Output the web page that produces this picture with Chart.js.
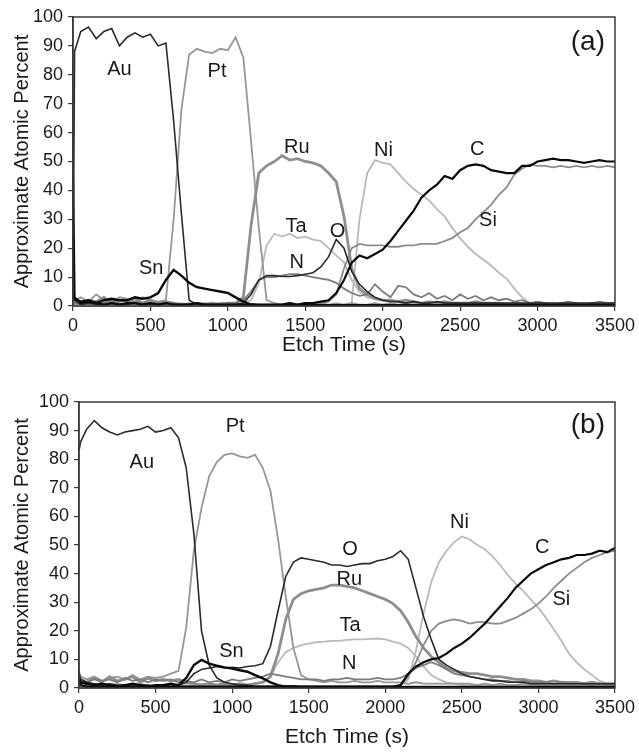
<!DOCTYPE html>
<html>
<head>
<meta charset="utf-8">
<script src="https://cdn.jsdelivr.net/npm/chart.js@4.4.1/dist/chart.umd.min.js"></script>
<style>
  html, body { margin: 0; padding: 0; background: #ffffff; }
  body { width: 639px; height: 753px; position: relative; overflow: hidden; }
  canvas { position: absolute; left: 0; }
  #chartA { top: 0px; }
  #chartB { top: 378px; }
</style>
</head>
<body>
<canvas id="chartA" width="639" height="375"></canvas>
<canvas id="chartB" width="639" height="375"></canvas>
<script>
// ---------- shared axis data ----------
const etchTime = [0, 10,
  50, 100, 150, 200, 250, 300, 350, 400, 450, 500,
  550, 600, 650, 700, 750, 800, 850, 900, 950, 1000,
  1050, 1100, 1150, 1200, 1250, 1300, 1350, 1400, 1450, 1500,
  1550, 1600, 1650, 1700, 1750, 1800, 1850, 1900, 1950, 2000,
  2050, 2100, 2150, 2200, 2250, 2300, 2350, 2400, 2450, 2500,
  2550, 2600, 2650, 2700, 2750, 2800, 2850, 2900, 2950, 3000,
  3050, 3100, 3150, 3200, 3250, 3300, 3350, 3400, 3450, 3500];
const xTicks = [0, 500, 1000, 1500, 2000, 2500, 3000, 3500];
const yTicks = [0, 10, 20, 30, 40, 50, 60, 70, 80, 90, 100];

// ---------- panel (a) ----------
const auA = [2, 88,
  95, 96.5, 92.5, 95, 96, 90, 93, 94.5, 93, 94,
  90, 91, 64, 32, 2, 0.5, 0.3, 0.3, 0.2, 0.3,
  0.2, 0.3, 0.2, 0.2, 0.3, 0.2, 0.2, 0.3, 0.2, 0.2,
  0.2, 0.2, 0.2, 0.2, 0.2, 0.2, 0.2, 0.2, 0.2, 0.2,
  0.2, 0.2, 0.2, 0.2, 0.2, 0.2, 0.2, 0.2, 0.2, 0.2,
  0.2, 0.2, 0.2, 0.2, 0.2, 0.2, 0.2, 0.2, 0.2, 0.2,
  0.2, 0.2, 0.2, 0.2, 0.2, 0.2, 0.2, 0.2, 0.2, 0.2];
const ptA = [1, 2,
  3, 1.5, 4, 2, 1, 3, 2.5, 1, 3, 2,
  1.5, 2, 30, 68, 87, 89, 88, 87.5, 89, 88.5,
  93, 86, 57, 27, 2, 1, 0.5, 1, 0.5, 1,
  0.5, 1, 0.5, 1, 0.5, 1, 0.5, 0.5, 1, 0.5,
  1, 0.5, 1, 0.5, 0.5, 1, 0.5, 1, 0.5, 0.5,
  1, 0.5, 0.5, 1, 0.5, 0.5, 1, 0.5, 0.5, 0.5,
  0.5, 0.5, 1, 0.5, 0.5, 0.5, 1, 0.5, 0.5, 0.5];
const snA = [4, 2.5,
  1.5, 2, 1, 2, 2.5, 2, 2, 3, 2.5, 3,
  4.5, 9, 12.5, 10.5, 8, 6.5, 6, 5.5, 5, 4.5,
  3, 1.5, 0.5, 0.3, 0.3, 0.3, 0.3, 0.3, 0.3, 0.3,
  0.3, 0.3, 0.3, 0.3, 0.3, 0.3, 0.3, 0.3, 0.3, 0.3,
  0.3, 0.3, 0.3, 0.3, 0.3, 0.3, 0.3, 0.3, 0.3, 0.3,
  0.3, 0.3, 0.3, 0.3, 0.3, 0.3, 0.3, 0.3, 0.3, 0.3,
  0.3, 0.3, 0.3, 0.3, 0.3, 0.3, 0.3, 0.3, 0.3, 0.3];
const ruA = [1, 1,
  1, 2, 1.5, 3, 1, 2, 1.5, 2.5, 1, 2,
  1, 1.5, 1, 0.5, 0.5, 1, 0.5, 1, 0.5, 1,
  1, 3, 28, 46, 48.5, 50, 52, 50.5, 51, 50,
  49.5, 48.5, 46, 43, 31, 13, 6, 4, 2.5, 2,
  2, 1.5, 2, 1.5, 1, 1.5, 1, 1.5, 1, 1,
  1, 1.5, 1, 1, 1, 0.5, 1, 0.5, 0.5, 0.5,
  0.5, 0.5, 0.5, 0.5, 0.5, 0.5, 0.5, 0.5, 0.5, 0.5];
const taA = [0.5, 0.5,
  0.5, 1, 0.5, 1, 0.5, 0.5, 1, 0.5, 0.5, 1,
  0.5, 0.5, 0.5, 1, 0.5, 0.5, 0.5, 1, 0.5, 0.5,
  0.5, 1, 2, 8, 21, 25, 24, 25, 23.5, 24,
  23, 22.5, 20, 17.5, 15, 9, 5, 3, 2.5, 2,
  2, 1.5, 1.5, 1, 1, 1, 0.5, 0.5, 0.5, 0.5,
  0.5, 0.5, 0.5, 0.5, 0.5, 0.5, 0.5, 0.5, 0.5, 0.5,
  0.5, 0.5, 0.5, 0.5, 0.5, 0.5, 0.5, 0.5, 0.5, 0.5];
const nA = [1, 1,
  1, 0.5, 1.5, 1, 2, 1, 0.5, 1.5, 1, 1,
  1, 0.5, 1, 0.5, 1, 0.5, 1, 0.5, 1, 1,
  1, 2, 5, 9, 10, 10, 10.5, 11, 11, 10.5,
  10, 9.5, 9, 8, 6, 4.5, 3.5, 4, 7.5, 5,
  3, 7, 6.5, 4, 3, 4.5, 2.5, 3.5, 2, 4,
  2.5, 3.5, 2, 3, 2, 2.5, 1.5, 2, 1, 1.5,
  1, 0.5, 1, 1.5, 1, 0.5, 1, 1.5, 1, 1];
const oA = [8, 2,
  0.5, 1, 0.5, 0.5, 1, 0.5, 0.5, 1, 0.5, 0.5,
  0.5, 1, 0.5, 0.5, 0.5, 1, 0.5, 0.5, 0.5, 0.5,
  0.5, 1, 4, 9, 10.5, 10.5, 10.2, 10.2, 10.5, 11,
  11.5, 13.5, 17, 23, 20, 12, 7.5, 5, 3, 2,
  1.5, 1.5, 1, 1.5, 1, 1, 1.5, 1, 1, 1,
  1, 1, 1, 1, 1, 1, 1, 1, 1, 1,
  1, 1, 1, 1, 1, 1, 1, 1, 1, 1];
const niA = [0.3, 0.3,
  0.3, 0.3, 0.3, 0.3, 0.3, 0.3, 0.3, 0.3, 0.3, 0.3,
  0.3, 0.3, 0.3, 0.3, 0.3, 0.3, 0.3, 0.3, 0.3, 0.3,
  0.3, 0.3, 0.3, 0.3, 0.3, 0.3, 0.3, 0.3, 0.3, 0.3,
  0.3, 0.3, 0.3, 0.3, 0.5, 1, 30, 46, 50.5, 49.5,
  49, 46, 43, 40.5, 38.5, 36.5, 33.5, 31, 27, 23.5,
  20.5, 18, 16, 14, 11.5, 9.5, 6, 3, 1, 0.5,
  0.5, 0.5, 0.5, 0.5, 0.5, 0.5, 0.5, 0.5, 0.5, 0.5];
const cA = [45, 3,
  1, 1.5, 1, 0.5, 1, 0.5, 1, 1, 0.5, 1,
  0.5, 1, 0.5, 0.5, 0.5, 1, 0.5, 0.5, 0.5, 0.5,
  0.5, 0.5, 0.5, 0.5, 0.5, 0.5, 0.5, 1, 0.5, 1,
  1, 1.5, 2, 4.5, 9, 15, 17.5, 16.5, 18, 19.5,
  22.5, 26, 29.5, 33, 37.5, 40, 42, 45, 44, 47,
  48.5, 49, 48.5, 47, 46.5, 46, 46, 48.5, 48.5, 50,
  50.5, 51, 50.5, 50.5, 50, 49.5, 50, 50.5, 50, 50];
const siA = [0.5, 0.5,
  0.5, 0.5, 0.5, 0.5, 0.5, 0.5, 0.5, 0.5, 0.5, 0.5,
  0.5, 0.5, 0.5, 0.5, 0.5, 0.5, 0.5, 0.5, 0.5, 0.5,
  0.5, 0.5, 0.5, 0.5, 0.5, 0.5, 0.5, 0.5, 0.5, 0.5,
  0.5, 1, 1.5, 4, 13, 20, 21.5, 21, 21, 21,
  20.5, 20.5, 21, 21, 21.5, 21.5, 21.5, 22.5, 23.5, 25.5,
  27, 30, 32.5, 35, 38.5, 41, 45.5, 47.5, 49, 48.5,
  48.5, 48, 48.5, 48, 48.5, 48, 48.5, 48, 48.5, 48];

// ---------- panel (b) ----------
const auB = [83, 86,
  90.5, 93.5, 91, 89.5, 88.5, 89.5, 90, 90.5, 91.5, 89.5,
  90, 91, 87.5, 77, 54, 20, 8, 3.5, 2, 1.5,
  1, 1, 0.5, 0.5, 0.5, 0.5, 0.5, 0.5, 0.5, 0.5,
  0.5, 0.5, 0.5, 0.5, 0.5, 0.5, 0.5, 0.5, 0.5, 0.5,
  0.5, 0.5, 0.5, 0.5, 0.5, 0.5, 0.5, 0.5, 0.5, 0.5,
  0.5, 0.5, 0.5, 0.5, 0.5, 0.5, 0.5, 0.5, 0.5, 0.5,
  0.5, 0.5, 0.5, 0.5, 0.5, 0.5, 0.5, 0.5, 0.5, 0.5];
const ptB = [5, 4,
  3, 4, 2.5, 3.5, 4, 3, 4.5, 3, 4, 3.5,
  4, 5, 6, 21, 48, 63, 74, 79, 81.5, 82,
  81, 80.5, 81.5, 77, 69, 52, 32, 14, 4.5, 3,
  2.5, 2, 2.5, 2, 2, 2.5, 2, 2, 2.5, 2,
  2, 2, 1.5, 2, 1.5, 1.5, 1.5, 1.5, 1.5, 1.5,
  1.5, 1, 1.5, 1, 1.5, 1, 1, 1.5, 1, 1,
  1, 1, 1, 1, 1, 1, 1, 1, 1, 1];
const snB = [3, 2,
  1.5, 1, 1.5, 1, 0.5, 1, 1.5, 1, 0.5, 1,
  1, 1.5, 1, 3.5, 8, 9.8, 8.5, 7.8, 7.2, 6.8,
  6.2, 5.7, 4.5, 3.4, 2, 1, 0.5, 0.5, 0.3, 0.3,
  0.3, 0.3, 0.3, 0.3, 0.3, 0.3, 0.3, 0.3, 0.3, 0.3,
  0.3, 0.3, 0.3, 0.3, 0.3, 0.3, 0.3, 0.3, 0.3, 0.3,
  0.3, 0.3, 0.3, 0.3, 0.3, 0.3, 0.3, 0.3, 0.3, 0.3,
  0.3, 0.3, 0.3, 0.3, 0.3, 0.3, 0.3, 0.3, 0.3, 0.3];
const oB = [6, 3,
  2, 1.5, 1, 1.5, 1, 1, 0.5, 1, 1, 0.5,
  1, 0.5, 1, 2, 5, 6.5, 7, 7.5, 7, 7.2,
  7, 7.5, 7.8, 8.5, 14.5, 27, 39, 44, 45.5, 45,
  44.5, 44, 43, 43, 42.5, 43, 43.5, 43.5, 44.5, 45,
  46, 48, 45, 35, 25, 17, 10, 8, 6.5, 5,
  4, 3.5, 3, 2.5, 2.5, 2, 2, 2, 1.5, 1.5,
  1.5, 1.5, 1.5, 1.5, 1.5, 1.5, 1.5, 1.5, 1.5, 1.5];
const ruB = [4, 3,
  2, 3.5, 2, 4, 2.5, 3, 4, 2, 3.5, 2.5,
  3, 2.5, 3, 2, 1.5, 1, 1.5, 1, 1.5, 1,
  1.5, 1, 1.5, 2, 4, 12, 24, 31, 33, 34,
  34.5, 35, 36, 36, 35.5, 35, 34, 33, 32, 31,
  29.5, 27, 23, 18, 14, 11, 9, 7, 6, 5.5,
  5, 5, 4.5, 4, 4, 3.5, 3, 3, 2.5, 2.5,
  2, 2.5, 2, 2, 2, 1.5, 2, 1.5, 1.5, 1.5];
const taB = [2, 1.5,
  1, 1.5, 1, 1, 1.5, 1, 1, 1.5, 1, 1,
  1, 1.5, 1, 1, 1, 1.5, 1, 1, 1, 1.5,
  1, 1, 1.5, 2, 4, 9, 12.5, 14, 15, 15.5,
  16, 16.2, 16.5, 16.5, 16.8, 17, 17, 17.2, 17.3, 17,
  16.2, 15.5, 14, 11, 7.5, 4.5, 3, 2, 1.5, 1,
  1, 1, 1, 1, 1, 1, 1, 1, 1, 1,
  1, 1, 1, 1, 1, 1, 1, 1, 1, 1];
const nB = [3, 2.5,
  2, 3, 2.5, 3, 2, 3.5, 2.5, 3, 2, 3,
  2.5, 3, 2, 2.5, 2, 3, 2, 2.5, 2, 3,
  2.5, 3, 3.5, 4, 5, 4.5, 4, 3.5, 3, 3,
  3, 2.5, 3, 3, 3.5, 3, 3, 3, 3.5, 3,
  3, 3.5, 5, 7, 8, 9, 8, 6.5, 5, 4.5,
  4, 3.5, 3, 3, 2.5, 2.5, 2, 2.5, 2, 2,
  2, 1.5, 2, 1.5, 1.5, 1.5, 1, 1.5, 1, 1];
const niB = [0.5, 0.5,
  0.5, 0.5, 0.5, 0.5, 0.5, 0.5, 0.5, 0.5, 0.5, 0.5,
  0.5, 0.5, 0.5, 0.5, 0.5, 0.5, 0.5, 0.5, 0.5, 0.5,
  0.5, 0.5, 0.5, 0.5, 0.5, 0.5, 0.5, 0.5, 0.5, 0.5,
  0.5, 0.5, 0.5, 0.5, 0.5, 0.5, 0.5, 0.5, 0.5, 0.5,
  0.5, 1, 3, 13, 26, 37, 44, 48, 51, 53,
  52, 50, 48.5, 46, 43, 39.5, 36.5, 34, 31, 28,
  24.5, 20.5, 16.5, 12, 9, 6.5, 4.5, 2.5, 1.5, 1];
const cB = [2, 1,
  0.5, 0.5, 0.5, 0.5, 0.5, 0.5, 0.5, 0.5, 0.5, 0.5,
  0.5, 0.5, 0.5, 0.5, 0.5, 0.5, 0.5, 0.5, 0.5, 0.5,
  0.5, 0.5, 0.5, 0.5, 0.5, 0.5, 0.5, 0.5, 0.5, 0.5,
  0.5, 0.5, 0.5, 0.5, 0.5, 0.5, 0.5, 0.5, 0.5, 0.5,
  0.5, 1, 5, 7.5, 9, 10, 10.5, 12, 14, 15.5,
  17.5, 20, 22.5, 25.5, 28.5, 31.5, 35, 37.5, 40, 41.5,
  43, 44, 45, 45.5, 46.5, 46.5, 47, 48, 47.5, 49];
const siB = [0.5, 0.5,
  0.5, 0.5, 0.5, 0.5, 0.5, 0.5, 0.5, 0.5, 0.5, 0.5,
  0.5, 0.5, 0.5, 0.5, 0.5, 0.5, 0.5, 0.5, 0.5, 0.5,
  0.5, 0.5, 0.5, 0.5, 0.5, 0.5, 0.5, 0.5, 0.5, 0.5,
  0.5, 0.5, 0.5, 0.5, 0.5, 0.5, 0.5, 0.5, 0.5, 0.5,
  0.5, 1, 4, 9, 15, 20, 22.5, 23.5, 24, 23.5,
  22.5, 23, 23, 22.5, 22.5, 23.5, 24.5, 26, 27.5, 29.5,
  32, 35, 37.5, 40, 42, 44, 45.5, 46.5, 47.5, 48];

// ---------- curve labels (text, etch time, percent) ----------
const labelsA = [
  ['Au', 300, 82], ['Pt', 930, 81], ['Sn', 505, 13], ['Ru', 1445, 55],
  ['Ta', 1440, 27.5], ['N', 1445, 15], ['O', 1708, 25.8], ['Ni', 2005, 53.8],
  ['C', 2610, 54], ['Si', 2680, 29.5]
];
const labelsB = [
  ['Au', 410, 79], ['Pt', 1020, 91.3], ['Sn', 995, 12.6], ['O', 1770, 48.6],
  ['Ru', 1765, 37.8], ['Ta', 1770, 21.7], ['N', 1765, 8.4], ['Ni', 2485, 57.7],
  ['C', 3025, 49], ['Si', 3150, 31.1]
];
const panelTagA = '(a)';
const panelTagB = '(b)';

// ---------- styles ----------
const FONT = '"Liberation Sans", Arial, Helvetica, sans-serif';
const styleOf = {
  Au: { color: '#2b2b2b', width: 1.6 },
  Sn: { color: '#0a0a0a', width: 2.4 },
  C:  { color: '#0a0a0a', width: 2.2 },
  O:  { color: '#2b2b2b', width: 1.6 },
  N:  { color: '#7c7c7c', width: 1.8 },
  Ru: { color: '#8e8e8e', width: 2.8 },
  Si: { color: '#8c8c8c', width: 1.8 },
  Pt: { color: '#969696', width: 1.8 },
  Ta: { color: '#b9b9b9', width: 1.8 },
  Ni: { color: '#b9b9b9', width: 1.8 }
};

function makeDatasets(series) {
  return series.map(([name, vals]) => ({
    label: name,
    data: etchTime.map((t, i) => ({ x: t, y: vals[i] })),
    borderColor: styleOf[name].color,
    borderWidth: styleOf[name].width,
    pointRadius: 0,
    tension: 0,
    fill: false
  }));
}

const overlayPlugin = {
  id: 'overlay',
  afterDatasetsDraw(chart, args, opts) {
    const { ctx, chartArea: a } = chart;
    const xs = chart.scales.x, ys = chart.scales.y;
    ctx.save();
    ctx.strokeStyle = '#3a3a3a';
    ctx.lineWidth = 1.5;
    ctx.strokeRect(a.left, a.top, a.right - a.left, a.bottom - a.top);
    ctx.fillStyle = '#1a1a1a';
    ctx.textAlign = 'center';
    ctx.textBaseline = 'middle';
    ctx.font = '20px ' + FONT;
    opts.labels.forEach(([txt, t, v]) => {
      ctx.fillText(txt, xs.getPixelForValue(t), ys.getPixelForValue(v));
    });
    ctx.font = '28px ' + FONT;
    ctx.textAlign = 'right';
    ctx.textBaseline = 'middle';
    ctx.fillText(opts.tag, a.right - 10, a.top + opts.tagDy);
    ctx.restore();
  }
};

function makeChart(id, series, labels, tag, geo) {
  return new Chart(document.getElementById(id), {
    type: 'line',
    data: { datasets: makeDatasets(series) },
    plugins: [overlayPlugin],
    options: {
      responsive: false,
      animation: false,
      events: [],
      layout: { padding: { left: 0, top: geo.top, right: geo.right, bottom: 0 } },
      plugins: {
        legend: { display: false },
        tooltip: { enabled: false },
        overlay: { labels: labels, tag: tag, tagDy: geo.tagDy }
      },
      scales: {
        x: {
          type: 'linear', min: 0, max: 3500,
          afterBuildTicks: s => { s.ticks = xTicks.map(v => ({ value: v })); },
          afterFit: s => { s.height = geo.xh; },
          grid: { drawOnChartArea: false, drawTicks: true, tickLength: 5, color: '#3a3a3a', lineWidth: 1.2 },
          border: { color: '#3a3a3a', width: 1.5 },
          ticks: { color: '#1a1a1a', font: { family: FONT, size: 18 }, padding: geo.xpad, maxRotation: 0,
                   callback: v => String(v) },
          title: { display: true, text: 'Etch Time (s)', color: '#1a1a1a',
                   font: { family: FONT, size: 21 }, padding: { top: 0, bottom: geo.titlePad } }
        },
        y: {
          type: 'linear', min: 0, max: 100,
          afterBuildTicks: s => { s.ticks = yTicks.map(v => ({ value: v })); },
          afterFit: s => { s.width = geo.yw; },
          grid: { drawOnChartArea: false, drawTicks: true, tickLength: 5, color: '#3a3a3a', lineWidth: 1.2 },
          border: { color: '#3a3a3a', width: 1.5 },
          ticks: { color: '#1a1a1a', font: { family: FONT, size: 18 }, padding: 5,
                   callback: v => String(v) },
          title: { display: true, text: 'Approximate Atomic Percent', color: '#1a1a1a',
                   font: { family: FONT, size: 20 }, padding: { top: 10, bottom: 0 } }
        }
      }
    }
  });
}

makeChart('chartA', [
  ['Sn', snA], ['C', cA], ['Au', auA], ['O', oA], ['N', nA],
  ['Ru', ruA], ['Si', siA], ['Pt', ptA], ['Ta', taA], ['Ni', niA]
], labelsA, panelTagA, { top: 17, right: 21, yw: 73, xh: 69, xpad: 4, titlePad: 17, tagDy: 25 });

makeChart('chartB', [
  ['Sn', snB], ['C', cB], ['Au', auB], ['O', oB], ['N', nB],
  ['Ru', ruB], ['Si', siB], ['Pt', ptB], ['Ta', taB], ['Ni', niB]
], labelsB, panelTagB, { top: 24, right: 22, yw: 79, xh: 65, xpad: 4, titlePad: 3, tagDy: 23 });
</script>
</body>
</html>
